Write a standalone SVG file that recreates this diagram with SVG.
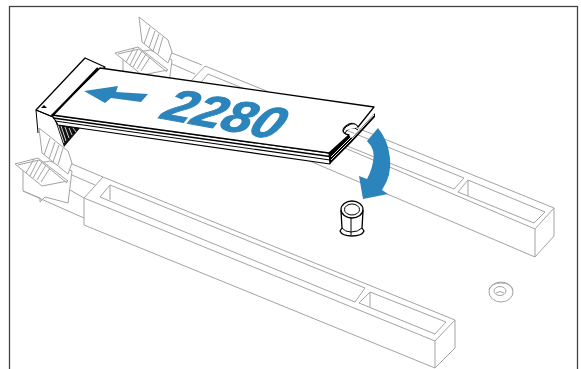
<svg xmlns="http://www.w3.org/2000/svg" xmlns:xlink="http://www.w3.org/1999/xlink" width="581" height="369" viewBox="0 0 581 369">
<style>
.g{fill:none;stroke:#a3a3a3;stroke-width:1;stroke-linejoin:round}
.gw{fill:#fff;stroke:#a3a3a3;stroke-width:1;stroke-linejoin:round}
.k{fill:none;stroke:#000;stroke-width:1;stroke-linejoin:round}
.kw{fill:#fff;stroke:#000;stroke-width:1.300;stroke-linejoin:round}
.b{fill:#2b84bb}
</style>
<defs>
<g id="clip">
<path class="gw" d="M123 55V80L140 87V91L145 86L168 92L172 60L150 50Z"/>
<path class="gw" d="M139 17L168 40L172 52L168 63L142 42Z"/>
<path class="g" d="M150 27L144 44M155 31L149 48M159 34L153 51M163 37L158 54"/>
<path class="gw" d="M115 53L138 47L168 70L142 75Z"/>
<path class="g" d="M118 54L139 49L167 72M126 62L134 48M130 65L138 49M133 67L142 51M137 69L146 54M141 71L150 57"/>
</g>
</defs>
<rect x="9.500" y="6.500" width="568" height="370" fill="#fff" stroke="#444" stroke-width="1.300"/>
<g id="back-socket">
<use xlink:href="#clip"/>
<path class="g" d="M172 53L202 65M172 64L195 74M122 74L190 110"/>
<path class="g" d="M190 82V110L535 257M205 66L190 82L535 229M205 66L554 208V236L535 257V229L554 208"/>
<path class="g" d="M208 74L198 86L454 189L464 178Z"/>
<path class="g" d="M468 180L458 192L534 223L545 212ZM468 180V196"/>
</g>
<g id="front-socket">
<use xlink:href="#clip" transform="translate(-100 111)"/>
<path class="g" d="M72 164L103 177M72 175L95 185M70 190L84 198M23 191L84 218"/>
<path class="gw" d="M84 198L103 177L455 320V348L435 368V341L84 198V225L435 368"/>
<path class="g" d="M435 341L455 320"/>
<path class="g" d="M110 185L100 197L355 302L365 288ZM110 185V200"/>
<path class="g" d="M370 292L359 303L435 334L446 322ZM370 292V307"/>
</g>
<g id="standoff">
<path class="kw" d="M341 211L342 228L340 231Q342 236 352 236Q362 236 364 231L362 228L363 211Z"/>
<path class="k" d="M342 213L351 218L362 213M351 218V235M342 228Q345 232 351 232Q358 232 362 228"/>
<ellipse class="kw" cx="352" cy="209.500" rx="11" ry="8.500"/>
<ellipse class="k" cx="352" cy="209.500" rx="7.500" ry="5.500"/>
</g>
<g id="washer">
<ellipse class="gw" cx="501" cy="292" rx="12" ry="10"/>
<path class="g" d="M489 290Q491 283 501 283Q511 283 513 290"/>
<ellipse class="g" cx="500" cy="291" rx="6" ry="4.500"/>
<path class="g" d="M496 293Q500 290 504 293"/>
</g>
<g id="card">
<path d="M55 120L64 147L81 127Z" fill="#111"/>
<path d="M58 125L64 143M61 126L66 141M65 127L69 138M69 128L72 135M73 128L76 132" fill="none" stroke="#fff" stroke-width=".8"/>
<path class="kw" d="M85 58L105 67L53 117L36 110Z"/>
<path d="M36 110L38 133M36 110L53 117" class="k"/>
<path d="M44 105L47 108H41Z" fill="#000"/>
<path d="M52 115L329 153L330 164L58 125Z" fill="#fff" stroke="#000" stroke-width="1.100" stroke-linejoin="round"/>
<path d="M53 118L330 156.500" stroke="#000" stroke-width="1.600" fill="none"/>
<path d="M55 121L330 160" stroke="#000" stroke-width="1.200" fill="none"/>
<path d="M329 153L348 135L352 138L375 113V117L352 142L330 164Z" fill="#000"/>
<path d="M331 157L352 136L374 112M331 160L352 139L374 115" fill="none" stroke="#fff" stroke-width=".9"/>
<path class="kw" d="M100 68L374 107L358 127Q354 122 349 124Q343 127 343 131Q344 134 349 135L329 153L52 115Z"/>
<path d="M98 68L52 116" fill="none" stroke="#000" stroke-width="2.200"/>
<path d="M345 133Q347 129 351 128Q355 127 358 130" fill="none" stroke="#000" stroke-width="1"/>
<path d="M343 131Q345 126 351 124Q356 123 358 127" fill="#fff" stroke="#000" stroke-width="1"/>
</g>
<g id="arrows">
<path class="b" d="M84 91L118 86L116 92L148 94L141 102L111 98L105 103Z"/>
<path class="b" d="M378 128L367 141Q376 150 373 162Q371 172 367 179L359 176L363 199L388 194L382 190Q392 175 390 158Q388 140 378 128Z"/>
<text transform="translate(159 118) rotate(10.500) skewX(-18) scale(1.16 1)" font-family="Liberation Sans, Arial, sans-serif" font-weight="700" font-style="italic" font-size="46" fill="#2b84bb" stroke="#2b84bb" stroke-width="1">2280</text>
</g>
</svg>
